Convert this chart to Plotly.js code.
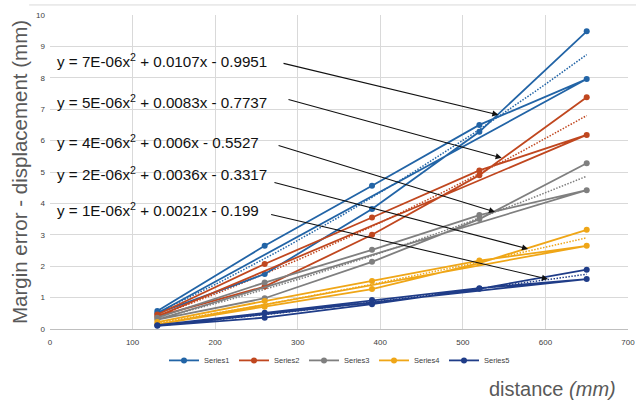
<!DOCTYPE html>
<html>
<head>
<meta charset="utf-8">
<script src="https://cdn.plot.ly/plotly-3.0.1.min.js"></script>
<style>
html,body{margin:0;padding:0;background:#fff;}
#chart{width:636px;height:403px;}
</style>
</head>
<body>
<div id="chart"></div>
<script>
// distances (mm), two repetitions per series, plotted in order (rep1 then rep2)
const distances = [130, 260, 390, 520, 650, 130, 260, 390, 520, 650];
const seriesNames = ['Series1', 'Series2', 'Series3', 'Series4', 'Series5'];
const series1 = [0.57, 2.65, 4.56, 6.50, 7.96, 0.50, 1.75, 3.82, 6.28, 9.48];
const series2 = [0.46, 2.07, 3.55, 5.05, 6.18, 0.40, 1.35, 3.00, 4.90, 7.38];
const series3 = [0.36, 1.48, 2.52, 3.63, 4.42, 0.30, 0.98, 2.14, 3.50, 5.28];
const series4 = [0.22, 0.89, 1.53, 2.18, 2.65, 0.15, 0.71, 1.27, 2.10, 3.16];
const series5 = [0.12, 0.52, 0.92, 1.30, 1.59, 0.10, 0.36, 0.79, 1.28, 1.89];
const equations = [
  'y = 7E-06x<sup>2</sup> + 0.0107x - 0.9951',
  'y = 5E-06x<sup>2</sup> + 0.0083x - 0.7737',
  'y = 4E-06x<sup>2</sup> + 0.006x - 0.5527',
  'y = 2E-06x<sup>2</sup> + 0.0036x - 0.3317',
  'y = 1E-06x<sup>2</sup> + 0.0021x - 0.199'
];
const xTicks = [0, 100, 200, 300, 400, 500, 600, 700];
const yTicks = [0, 1, 2, 3, 4, 5, 6, 7, 8, 9, 10];

const colors = ['#2264A6', '#C0471F', '#7F7F7F', '#EFA617', '#1F3C88'];
const allSeries = [series1, series2, series3, series4, series5];

// least-squares quadratic fit (Excel polynomial trendline, order 2)
function quadFit(xs, ys) {
  let S = [0,0,0,0,0], T = [0,0,0];
  for (let i = 0; i < xs.length; i++) {
    const x = xs[i], y = ys[i];
    let p = 1;
    for (let k = 0; k < 5; k++) { S[k] += p; p *= x; }
    T[0] += y; T[1] += y * x; T[2] += y * x * x;
  }
  const A = [[S[0],S[1],S[2],T[0]],[S[1],S[2],S[3],T[1]],[S[2],S[3],S[4],T[2]]];
  for (let c = 0; c < 3; c++) {
    for (let r = c + 1; r < 3; r++) {
      const f = A[r][c] / A[c][c];
      for (let k = c; k < 4; k++) A[r][k] -= f * A[c][k];
    }
  }
  const sol = [0,0,0];
  for (let r = 2; r >= 0; r--) {
    let s = A[r][3];
    for (let k = r + 1; k < 3; k++) s -= A[r][k] * sol[k];
    sol[r] = s / A[r][r];
  }
  return sol; // c0, c1, c2
}

const traces = [];
const trendTraces = [];
allSeries.forEach((ys, i) => {
  traces.push({
    x: distances, y: ys, name: seriesNames[i], type: 'scatter', mode: 'lines+markers',
    line: {color: colors[i], width: 1.8},
    marker: {color: colors[i], size: 6},
    showlegend: true
  });
  const c = quadFit(distances, ys);
  const xmin = Math.min(...distances), xmax = Math.max(...distances);
  const tx = [], ty = [];
  for (let k = 0; k <= 40; k++) {
    const x = xmin + (xmax - xmin) * k / 40;
    tx.push(x); ty.push(c[0] + c[1] * x + c[2] * x * x);
  }
  trendTraces.push({
    x: tx, y: ty, type: 'scatter', mode: 'lines', showlegend: false, hoverinfo: 'skip',
    line: {color: colors[i], width: 1.5, dash: '1.5px,1.5px'}
  });
});

// equation label positions and arrow geometry (data coordinates)
const eqPos = [[6, 8.54], [6, 7.26], [6, 5.96], [6, 4.94], [6, 3.79]];
const arrowTail = [[281, 8.47], [287, 7.32], [275, 5.86], [270, 4.68], [266, 3.66]];
const arrowHead = [[543, 6.82], [547, 5.45], [539, 3.73], [579, 2.55], [603, 1.59]];

const annotations = [];
equations.forEach((t, i) => {
  annotations.push({
    x: eqPos[i][0], y: eqPos[i][1], xref: 'x', yref: 'y', text: t, showarrow: false,
    xanchor: 'left', yanchor: 'middle',
    font: {family: 'Liberation Sans, Arial, sans-serif', size: 15.2, color: '#111111'}
  });
  annotations.push({
    x: arrowHead[i][0], y: arrowHead[i][1], xref: 'x', yref: 'y',
    ax: arrowTail[i][0], ay: arrowTail[i][1], axref: 'x', ayref: 'y',
    text: '', showarrow: true, arrowhead: 2, arrowsize: 1.1, arrowwidth: 1.1,
    arrowcolor: '#111111', standoff: 0, startstandoff: 0
  });
});

annotations.push({
  xref: 'paper', yref: 'paper', x: 0.983, y: -0.19, xanchor: 'right', yanchor: 'middle',
  text: 'distance <i>(mm)</i>', showarrow: false,
  font: {family: 'Liberation Sans, Arial, sans-serif', size: 20, color: '#595959'}
});

const layout = {
  width: 636, height: 403,
  margin: {l: 50, r: 8, t: 15, b: 74},
  paper_bgcolor: '#ffffff', plot_bgcolor: '#ffffff',
  font: {family: 'Liberation Sans, Arial, sans-serif', color: '#595959'},
  xaxis: {
    range: [0, 700], tickvals: xTicks, ticktext: xTicks.map(String),
    showgrid: true, gridcolor: '#D9D9D9', gridwidth: 1,
    zeroline: false, showline: true, linecolor: '#BFBFBF', linewidth: 1,
    ticks: '', ticklabelstandoff: 5,
    tickfont: {size: 8, color: '#404040'}
  },
  yaxis: {
    range: [0, 10], tickvals: yTicks, ticktext: yTicks.map(String),
    showgrid: true, gridcolor: '#D9D9D9', gridwidth: 1,
    zeroline: false, showline: false,
    ticks: '', ticklabelstandoff: 4,
    tickfont: {size: 8, color: '#404040'},
    title: {text: 'Margin error - displacement (mm)', standoff: 2,
            font: {family: 'Liberation Sans, Arial, sans-serif', size: 20.5, color: '#595959'}}
  },
  legend: {
    orientation: 'h', x: 0.5, xanchor: 'center', y: -0.1, yanchor: 'middle',
    font: {size: 7.5, color: '#404040'}, itemwidth: 30,
    entrywidth: 25, entrywidthmode: 'pixels', traceorder: 'normal'
  },
  showlegend: true,
  annotations: annotations,
  shapes: [{
    type: 'line', xref: 'paper', yref: 'paper', x0: -0.036, x1: 1.02, y0: 1.032, y1: 1.032,
    line: {color: '#D9D9D9', width: 1}
  }]
};

Plotly.newPlot('chart', trendTraces.concat(traces), layout, {displayModeBar: false, staticPlot: true});
</script>
</body>
</html>
